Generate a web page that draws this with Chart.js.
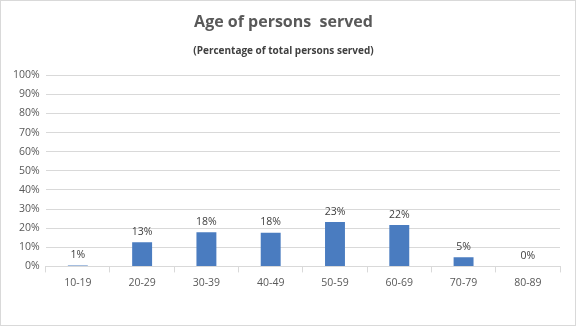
<!DOCTYPE html>
<html>
<head>
<meta charset="utf-8">
<script src="https://cdn.jsdelivr.net/npm/chart.js@4.4.0/dist/chart.umd.min.js"></script>
<style>
  body { margin: 0; background: #fff; }
  #wrap { width: 576px; height: 326px; box-sizing: border-box; border: 1px solid #d9d9d9; }
</style>
</head>
<body>
<div id="wrap"><canvas id="mycanvas" width="574" height="324"></canvas></div>
<script>
var ageGroups = ["10-19", "20-29", "30-39", "40-49", "50-59", "60-69", "70-79", "80-89"];
var percentServed = [0.5, 12.6, 17.9, 17.6, 23.2, 21.6, 4.8, 0.2];
var yTicks = [0, 10, 20, 30, 40, 50, 60, 70, 80, 90, 100];

var fontName = "'Open Sans', 'Noto Sans', sans-serif";

// draws the % value over each bar
var barLabels = {
	id: "barLabels",
	afterDatasetsDraw: function(chart) {
		var ctx = chart.ctx;
		var meta = chart.getDatasetMeta(0);
		ctx.save();
		ctx.font = "10.5px " + fontName;
		ctx.fillStyle = "#404040";
		ctx.textAlign = "center";
		ctx.textBaseline = "bottom";
		meta.data.forEach(function(bar, i) {
			ctx.fillText(Math.round(percentServed[i]) + "%", bar.x, bar.y - 5);
		});
		ctx.restore();
	}
};

var chartdata = {
	labels: ageGroups,
	datasets: [
		{
			label: "Percentage",
			backgroundColor: "#4a7cc0",
			borderWidth: 0,
			barPercentage: 0.31,
			categoryPercentage: 1,
			data: percentServed
		}
	]
};

var ctx = document.getElementById("mycanvas");

var BarGraph = new Chart(ctx, {
	type: "bar",
	data: chartdata,
	plugins: [barLabels],
	options: {
		responsive: false,
		animation: false,
		layout: { padding: { left: 6, right: 15, top: 0, bottom: 32 } },
		plugins: {
			legend: { display: false },
			tooltip: { enabled: false },
			title: {
				display: true,
				text: "Age of persons  served",
				color: "#595959",
				font: { family: fontName, size: 16, weight: "bold" },
				padding: { top: 12, bottom: 7 }
			},
			subtitle: {
				display: true,
				text: "(Percentage of total persons served)",
				color: "#404040",
				font: { family: fontName, size: 10, weight: "bold" },
				padding: { top: 6, bottom: 18 }
			}
		},
		scales: {
			x: {
				offset: true,
				grid: { offset: true, drawOnChartArea: false, color: "#d9d9d9", tickLength: 6 },
				border: { color: "#d9d9d9" },
				ticks: { color: "#595959", font: { family: fontName, size: 10.5 }, padding: 4 }
			},
			y: {
				min: 0,
				max: 100,
				afterBuildTicks: function(axis) {
					axis.ticks = yTicks.map(function(v) { return { value: v }; });
				},
				grid: { color: "#d9d9d9", drawTicks: false },
				border: { display: false },
				ticks: {
					color: "#595959",
					font: { family: fontName, size: 10.5 },
					padding: 6,
					callback: function(v) { return v + "%"; }
				}
			}
		}
	}
});
</script>
</body>
</html>
